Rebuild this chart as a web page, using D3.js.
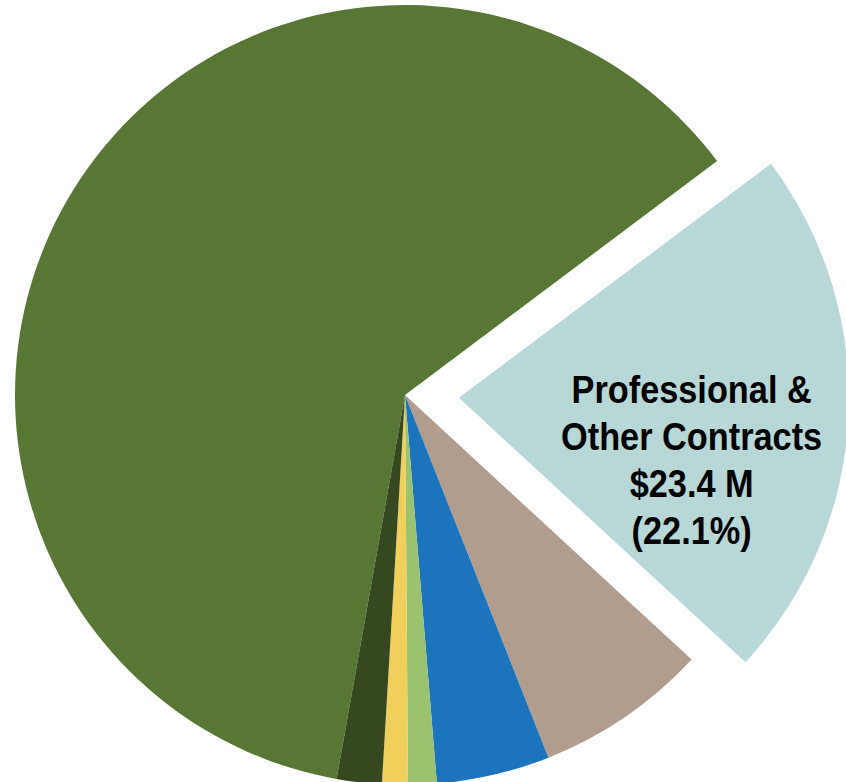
<!DOCTYPE html>
<html>
<head>
<meta charset="utf-8">
<script src="https://cdn.jsdelivr.net/npm/d3@7/dist/d3.min.js"></script>
<style>
  html, body { margin: 0; padding: 0; background: #ffffff; }
  svg { display: block; }
</style>
</head>
<body>
<svg id="chart" width="846" height="782"></svg>
<script>
// Expense categories (in $ millions), drawn clockwise
const categories = [
  "Salaries & Benefits",
  "Professional & Other Contracts",
  "Operating Expenses",
  "Information Technology",
  "Travel & Training",
  "Equipment",
  "Other"
];
const amounts = [65.6, 23.4, 7.56, 4.97, 1.25, 1.13, 1.97];
const colors = ["#587634", "#b8d7d7", "#b09d8e", "#1c75bc", "#9bc26f", "#f0cf5a", "#36481f"];
// The one slice pulled out of the pie and labelled
const highlighted = "Professional & Other Contracts";
const labelLines = ["Professional &", "Other Contracts", "$23.4 M", "(22.1%)"];

const width = 846, height = 782;
const cx = 405, cy = 395, radius = 390;
const explode = 54;
const rotation = -169.9 * Math.PI / 180;

const data = categories.map((c, i) => ({ name: c, value: amounts[i], color: colors[i] }));

const pie = d3.pie()
  .sort(null)
  .value(d => d.value)
  .startAngle(rotation)
  .endAngle(rotation + 2 * Math.PI);

const arc = d3.arc().innerRadius(0).outerRadius(radius);

const svg = d3.select("#chart");
const g = svg.append("g").attr("transform", `translate(${cx},${cy})`);

const arcs = pie(data);

function offset(d) {
  if (d.data.name !== highlighted) return [0, 0];
  const mid = (d.startAngle + d.endAngle) / 2;
  return [Math.sin(mid) * explode, -Math.cos(mid) * explode];
}

g.selectAll("path.slice")
  .data(arcs)
  .join("path")
  .attr("class", "slice")
  .attr("d", arc)
  .attr("fill", d => d.data.color)
  .attr("transform", d => `translate(${offset(d)})`);

// Label inside the exploded slice (condensed bold type)
const hi = arcs.find(d => d.data.name === highlighted);
const mid = (hi.startAngle + hi.endAngle) / 2;
const [ox, oy] = offset(hi);
const lr = radius * 0.6;
const lx = ox + Math.sin(mid) * lr;
const ly = oy - Math.cos(mid) * lr;
const lineH = 47;

const label = g.append("text")
  .attr("transform", `translate(${lx - 1},${ly - 7}) scale(0.88,1)`)
  .attr("text-anchor", "middle")
  .attr("font-family", "'Liberation Sans', Arial, sans-serif")
  .attr("font-weight", "bold")
  .attr("font-size", 39)
  .attr("fill", "#000");

labelLines.forEach((t, i) => {
  label.append("tspan")
    .attr("x", 0)
    .attr("y", i * lineH)
    .text(t);
});
</script>
</body>
</html>
